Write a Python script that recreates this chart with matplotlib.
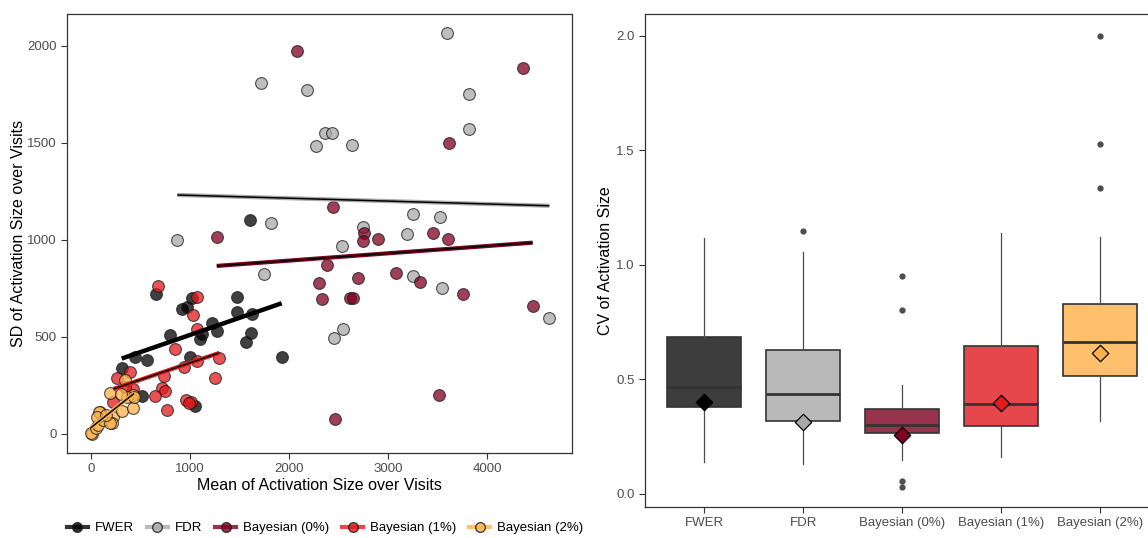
import numpy as np
import matplotlib.pyplot as plt
from matplotlib.lines import Line2D

plt.rcParams["font.family"] = ["Liberation Sans", "DejaVu Sans"]

# Data

Groups = ["FWER", "FDR", "Bayesian (0%)", "Bayesian (1%)", "Bayesian (2%)"]
Colors = ["#000000", "#a9a9a9", "#800020", "#e41a1c", "#feb24c"]
Box_Fill = ["#3d3d3d", "#b9b9b9", "#99334d", "#e5474a", "#fec06c"]

FWER_Mean = [657, 1017, 916, 973, 1472, 1472, 1623, 1219, 1269, 1118, 1101, 798,
             1613, 1566, 562, 448, 1000, 1926, 310, 512, 1051, 1606]
FWER_SD = [720, 703, 643, 653, 705, 627, 617, 570, 529, 515, 488, 512,
           518, 476, 381, 397, 395, 395, 339, 194, 146, 1101]

FDR_Mean = [3600, 1717, 2182, 3818, 3818, 2367, 2434, 2270, 2636, 1815, 872, 2747,
            2532, 3189, 3256, 3525, 1747, 3249, 3549, 4630, 2542, 2455]
FDR_SD = [2067, 1811, 1772, 1754, 1574, 1553, 1553, 1483, 1488, 1089, 998, 1065,
          967, 1032, 1134, 1120, 825, 813, 754, 600, 540, 495]

B0_Mean = [2081, 4367, 3616, 2448, 1270, 2758, 2744, 2896, 3455, 3609, 2380, 2306,
           2330, 2700, 2616, 2643, 3081, 3323, 3754, 4461, 3515, 2465]
B0_SD = [1974, 1888, 1500, 1170, 1014, 1034, 995, 1005, 1038, 1007, 873, 777,
         696, 802, 699, 699, 828, 784, 722, 661, 203, 76]

B1_Mean = [680, 1067, 1027, 1074, 848, 1067, 1296, 942, 737, 1253, 714, 747,
           646, 960, 1010, 765, 259, 394, 225, 421, 985, 345]
B1_SD = [763, 705, 613, 541, 437, 378, 390, 343, 299, 287, 235, 223,
         196, 175, 166, 126, 287, 318, 166, 230, 158, 240]

B2_Mean = [7, 0, 50, 74, 91, 124, 192, 225, 209, 310, 343, 421,
           427, 360, 84, 64, 192, 300, 434, 150]
B2_SD = [0, 5, 29, 46, 115, 72, 210, 89, 55, 120, 278, 132,
         201, 192, 112, 89, 58, 205, 192, 100]

Scatter_Mean = [FWER_Mean, FDR_Mean, B0_Mean, B1_Mean, B2_Mean]
Scatter_SD = [FWER_SD, FDR_SD, B0_SD, B1_SD, B2_SD]

# CV box plot summaries
CV_Q1 = [0.381, 0.320, 0.266, 0.298, 0.514]
CV_Median = [0.466, 0.438, 0.300, 0.392, 0.662]
CV_Q3 = [0.687, 0.630, 0.373, 0.648, 0.828]
CV_Whis_Lo = [0.138, 0.130, 0.150, 0.160, 0.320]
CV_Whis_Hi = [1.117, 1.055, 0.477, 1.138, 1.124]
CV_Mean = [0.402, 0.316, 0.259, 0.397, 0.614]
CV_Outliers = [[], [1.147], [0.952, 0.803, 0.058, 0.032], [], [2.001, 1.528, 1.338]]


# Plotting

fig = plt.figure(figsize=(11.48, 5.38), dpi=100)

Frame = "#333333"
Tick_Col = "#4d4d4d"


def style_axes(ax):
    for s in ax.spines.values():
        s.set_color(Frame)
        s.set_linewidth(0.9)
    ax.tick_params(direction="out", length=4, width=0.8, color=Frame,
                   labelcolor=Tick_Col, labelsize=9.5)


# Left: scatter with linear fits

ax1 = fig.add_axes([0.0584, 0.158, 0.4399, 0.816])
style_axes(ax1)

for i in range(len(Groups)):
    ax1.scatter(Scatter_Mean[i], Scatter_SD[i], s=72, facecolor=Colors[i],
                edgecolor="#1a1a1a", linewidth=0.8, alpha=0.75, zorder=2)

for i in range(len(Groups)):
    x = np.array(Scatter_Mean[i])
    y = np.array(Scatter_SD[i])
    b, a = np.polyfit(x, y, 1)
    xs = np.array([x.min(), x.max()])
    if i == 0:
        ax1.plot(xs, a + b * xs, color="black", lw=3.2, zorder=3, solid_capstyle="butt")
    else:
        ax1.plot(xs, a + b * xs, color=Colors[i], lw=3.0, zorder=3, solid_capstyle="butt")
        ax1.plot(xs, a + b * xs, color="black", lw=1.1, zorder=4, solid_capstyle="butt")

ax1.set_xlim(-242, 4859)
ax1.set_ylim(-98, 2165)
ax1.set_xticks([0, 1000, 2000, 3000, 4000])
ax1.set_yticks([0, 500, 1000, 1500, 2000])
ax1.set_xlabel("Mean of Activation Size over Visits", fontsize=11.5, labelpad=2)
ax1.set_ylabel("SD of Activation Size over Visits", fontsize=11.5, labelpad=1)

Handles = [Line2D([0], [0], color=c, lw=3, marker="o", markersize=7,
                  markerfacecolor=c, markeredgecolor="#1a1a1a", alpha=0.8)
           for c in Colors]
fig.legend(Handles, Groups, loc="center", bbox_to_anchor=(0.283, 0.018),
           ncol=5, frameon=False, fontsize=9.5, handlelength=1.6,
           handletextpad=0.5, columnspacing=1.0)


# Right: CV box plot

ax2 = fig.add_axes([0.5618, 0.0576, 0.4478, 0.9164])
style_axes(ax2)

Stats = []
for i in range(len(Groups)):
    Stats.append(dict(q1=CV_Q1[i], med=CV_Median[i], q3=CV_Q3[i],
                      whislo=CV_Whis_Lo[i], whishi=CV_Whis_Hi[i],
                      fliers=CV_Outliers[i], label=Groups[i]))

Boxes = ax2.bxp(Stats, positions=range(1, 6), widths=0.75, patch_artist=True,
                showcaps=False,
                boxprops=dict(edgecolor=Frame, linewidth=1.2),
                medianprops=dict(color=Frame, linewidth=2.0),
                whiskerprops=dict(color="#4d4d4d", linewidth=0.9),
                flierprops=dict(marker="o", markersize=4.5, markerfacecolor="#4d4d4d",
                                markeredgecolor="none"))
for patch, fc in zip(Boxes["boxes"], Box_Fill):
    patch.set_facecolor(fc)

for i in range(len(Groups)):
    ax2.scatter(i + 1, CV_Mean[i], marker="D", s=70, facecolor=Colors[i],
                edgecolor="black", linewidth=0.9, zorder=5)

ax2.set_xlim(0.4, 5.6)
ax2.set_ylim(-0.057, 2.096)
ax2.set_yticks([0.0, 0.5, 1.0, 1.5, 2.0])
ax2.set_yticklabels(["0.0", "0.5", "1.0", "1.5", "2.0"])
ax2.set_ylabel("CV of Activation Size", fontsize=11.5, labelpad=2)

fig.savefig("out.png", dpi=100)
